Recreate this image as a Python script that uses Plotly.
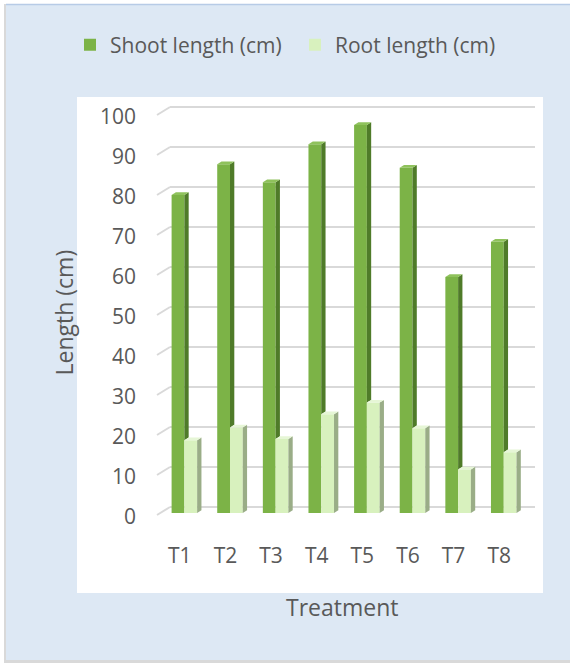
import plotly.graph_objects as go

# ---- data ----
treatments = ["T1", "T2", "T3", "T4", "T5", "T6", "T7", "T8"]
shoot_length = [79.5, 87.2, 82.7, 92.2, 97.0, 86.3, 59.0, 67.8]
root_length = [18.2, 21.4, 18.5, 24.7, 27.6, 21.2, 10.9, 15.2]
y_ticks = [0, 10, 20, 30, 40, 50, 60, 70, 80, 90, 100]

# ---- style / geometry ----
W, H = 570, 663
ML, MR, MT, MB = 170, 35, 100, 123
PW, PH = W - ML - MR, H - MT - MB
YR = [-8.25, 101.75]
XR = [-0.5, 7.5]
px_x = PW / (XR[1] - XR[0])   # pixels per x unit
px_y = PH / (YR[1] - YR[0])   # pixels per y unit

BASE = -6 / px_y          # front face of bars sits 6px below the back floor
DX = 4.3 / px_x           # bar depth vector
DY = 2.7 / px_y
BW = 0.28
OFF_S = -0.465
OFF_R = OFF_S + BW

SHOOT_FRONT, SHOOT_SIDE, SHOOT_TOP = "#7cb347", "#4f7b29", "#8fc25c"
ROOT_FRONT, ROOT_SIDE, ROOT_TOP = "#d8f1be", "#9aad87", "#e6f6d6"
TXT = "#595959"
FONT = "Open Sans"
FS = 21
FS_TITLE = 23


def px2paper_x(p):
    return (p - ML) / PW


def px2paper_y(p):
    return (H - MB - p) / PH


xs = list(range(len(treatments)))
fig = go.Figure()

fig.add_trace(go.Bar(x=xs, y=shoot_length, base=BASE, width=BW, offset=OFF_S,
                     marker=dict(color=SHOOT_FRONT, line=dict(width=0)),
                     name="Shoot length (cm)"))
fig.add_trace(go.Bar(x=xs, y=root_length, base=BASE, width=BW, offset=OFF_R,
                     marker=dict(color=ROOT_FRONT, line=dict(width=0)),
                     name="Root length (cm)"))


def poly(xp, yp, color):
    fig.add_trace(go.Scatter(x=xp + [xp[0]], y=yp + [yp[0]], fill="toself",
                             fillcolor=color, mode="lines",
                             line=dict(width=0, color=color),
                             showlegend=False, hoverinfo="skip"))


for i, (s, r) in enumerate(zip(shoot_length, root_length)):
    xr = i + OFF_S + BW
    xl = i + OFF_S
    ts = BASE + s
    tr = BASE + r
    # shoot side (part visible above the root bar) and top
    poly([xr, xr + DX, xr + DX, xr], [tr, tr + DY, ts + DY, ts], SHOOT_SIDE)
    poly([xl, xl + DX, xr + DX, xr], [ts, ts + DY, ts + DY, ts], SHOOT_TOP)
    # root side and top
    xl2 = i + OFF_R
    xr2 = xl2 + BW
    poly([xr2, xr2 + DX, xr2 + DX, xr2], [BASE, BASE + DY, tr + DY, tr], ROOT_SIDE)
    poly([xl2, xl2 + DX, xr2 + DX, xr2], [tr, tr + DY, tr + DY, tr], ROOT_TOP)

shapes = [
    dict(type="rect", xref="paper", yref="paper", layer="below",
         x0=px2paper_x(4), x1=px2paper_x(572), y0=px2paper_y(663), y1=px2paper_y(4),
         fillcolor="#d9d9d9", line=dict(width=0)),
    dict(type="rect", xref="paper", yref="paper", layer="below",
         x0=px2paper_x(6), x1=px2paper_x(572), y0=px2paper_y(660), y1=px2paper_y(4),
         fillcolor="#dde8f4", line=dict(width=0)),
    dict(type="line", xref="paper", yref="paper", layer="below",
         x0=px2paper_x(6), x1=px2paper_x(572), y0=px2paper_y(4.5), y1=px2paper_y(4.5),
         line=dict(color="#b7cbe6", width=1.5)),
    dict(type="rect", xref="paper", yref="paper", layer="below",
         x0=px2paper_x(77), x1=px2paper_x(543), y0=px2paper_y(593), y1=px2paper_y(97),
         fillcolor="white", line=dict(width=0)),
]
for t in y_ticks:
    shapes.append(dict(type="line", xref="paper", yref="y", layer="below",
                       x0=px2paper_x(ML - 13), y0=t - 8 / px_y, x1=0, y1=t,
                       line=dict(color="#d9d9d9", width=2)))

fig.update_layout(
    width=W, height=H,
    margin=dict(l=ML, r=MR, t=MT, b=MB),
    paper_bgcolor="white", plot_bgcolor="rgba(0,0,0,0)",
    barmode="overlay",
    font=dict(family=FONT, size=FS, color=TXT),
    shapes=shapes,
    showlegend=True,
    legend=dict(orientation="h", x=px2paper_x(70), xanchor="left",
                y=px2paper_y(45), yanchor="middle",
                font=dict(family=FONT, size=FS, color=TXT),
                bgcolor="rgba(0,0,0,0)", itemwidth=30, traceorder="normal",
                entrywidth=180, entrywidthmode="pixels"),
    xaxis=dict(range=XR, tickmode="array", tickvals=xs, ticktext=treatments,
               showgrid=False, zeroline=False, showline=False, ticks="",
               ticklabelshift=-13, ticklabelstandoff=1, fixedrange=True),
    yaxis=dict(range=YR, tickmode="array", tickvals=y_ticks,
               showgrid=True, gridcolor="#d9d9d9", gridwidth=2,
               zeroline=False, showline=False, ticks="",
               ticklabelshift=10, ticklabelstandoff=33, fixedrange=True),
    annotations=[
        dict(text="Length (cm)", xref="paper", yref="paper",
             x=px2paper_x(63.5), y=px2paper_y(312), textangle=-90,
             showarrow=False, font=dict(family=FONT, size=FS_TITLE, color=TXT),
             xanchor="center", yanchor="middle"),
        dict(text="Treatment", xref="paper", yref="paper",
             x=px2paper_x(342), y=px2paper_y(607), showarrow=False,
             font=dict(family=FONT, size=FS_TITLE, color=TXT),
             xanchor="center", yanchor="middle"),
    ],
)

fig.write_html("out.html")
